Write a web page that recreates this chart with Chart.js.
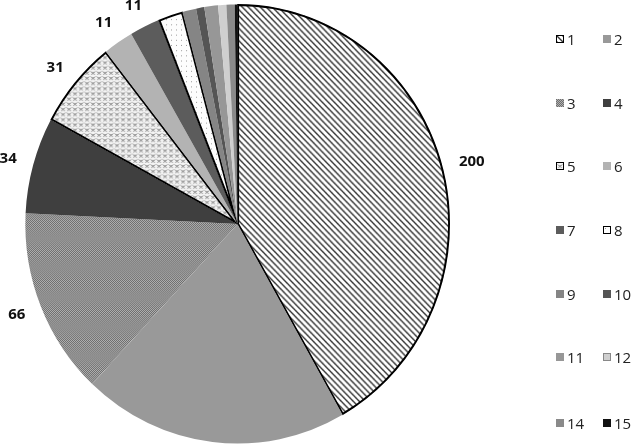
<!DOCTYPE html>
<html>
<head>
<meta charset="utf-8">
<script src="https://cdn.jsdelivr.net/npm/chart.js@4.4.1/dist/chart.umd.min.js"></script>
<style>
  html, body { margin: 0; padding: 0; background: #fff; overflow: hidden; }
  #wrap { position: relative; width: 635px; height: 447px; }
  #c { position: absolute; left: 0; top: 0; }
  #legend { position: absolute; left: 0; top: 0; width: 635px; height: 447px; pointer-events: none; }
  .item { position: absolute; display: flex; align-items: center; font-family: "Open Sans", sans-serif; font-size: 15px; color: #222; height: 20px; }
  .sw { width: 8px; height: 8px; margin-right: 3px; box-sizing: border-box; }
</style>
</head>
<body>
<div id="wrap">
  <canvas id="c" width="530" height="447"></canvas>
  <div id="legend"></div>
</div>
<script>
// ---- data ----
const categories = ["1","2","3","4","5","6","7","8","9","10","11","12","14","15"];
const values     = [200, 97, 66, 34, 31, 11, 11, 9, 5, 3, 5, 3, 3, 1];
const shownLabels = ["200","97","66","34","31","11","11","9","","","","","",""];
const fills      = ["hatch","#999999","dots","#3f3f3f","scallop","#b3b3b3","#5c5c5c","sparse","#858585","#555555","#979797","#cfcfcf","#8a8a8a","#111111"];
const borders    = [1.6, 0, 0, 0, 1.6, 0, 0, 1.6, 0, 0, 0, 0, 0, 0];
const yStretch = 1.035;

function makeTile(kind) {
  const t = document.createElement('canvas');
  const g = t.getContext('2d');
  if (kind === 'hatch') {
    t.width = 6; t.height = 6;
    g.fillStyle = '#fff'; g.fillRect(0,0,6,6);
    g.strokeStyle = '#3a3a3a'; g.lineWidth = 1.4;
    g.beginPath();
    g.moveTo(-1,-1); g.lineTo(7,7);
    g.moveTo(-1,5); g.lineTo(1,7);
    g.moveTo(5,-1); g.lineTo(7,1);
    g.stroke();
  } else if (kind === 'dots') {
    t.width = 2; t.height = 2;
    g.fillStyle = '#b0b0b0'; g.fillRect(0,0,2,2);
    g.fillStyle = '#6e6e6e'; g.fillRect(0,0,1,1); g.fillRect(1,1,1,1);
  } else if (kind === 'scallop') {
    t.width = 6; t.height = 5;
    g.fillStyle = '#f4f4f4'; g.fillRect(0,0,6,5);
    g.strokeStyle = '#8a8a8a'; g.lineWidth = 0.8;
    g.beginPath(); g.arc(3, 0.5, 2.5, 0.1*Math.PI, 0.9*Math.PI); g.stroke();
    g.beginPath(); g.arc(0, 3, 2.5, -0.1*Math.PI, 0.6*Math.PI); g.stroke();
    g.beginPath(); g.arc(6, 3, 2.5, 0.4*Math.PI, 1.1*Math.PI); g.stroke();
  } else if (kind === 'sparse') {
    t.width = 5; t.height = 5;
    g.fillStyle = '#fdfdfd'; g.fillRect(0,0,5,5);
    g.fillStyle = '#9a9a9a'; g.fillRect(1,1,1,1);
  }
  return t;
}
const ctx = document.getElementById('c').getContext('2d');
const bg = fills.map(f => f.startsWith('#') ? f : ctx.createPattern(makeTile(f), 'repeat'));

const stretchPlugin = {
  id: 'stretch',
  beforeDatasetsDraw(chart) {
    const p = chart.getDatasetMeta(0).data[0];
    const c = chart.ctx;
    c.save();
    c.translate(0, p.y);
    c.scale(1, yStretch);
    c.translate(0, -p.y);
  },
  afterDatasetsDraw(chart) {
    chart.ctx.restore();
  }
};

const labelPlugin = {
  id: 'outerLabels',
  afterDraw(chart) {
    const meta = chart.getDatasetMeta(0);
    const c = chart.ctx;
    c.save();
    c.font = 'bold 15px "Open Sans", sans-serif';
    c.fillStyle = '#111';
    c.textAlign = 'center';
    c.textBaseline = 'middle';
    meta.data.forEach((arc, i) => {
      const txt = shownLabels[i];
      if (!txt) return;
      const p = arc.getProps(['x','y','startAngle','endAngle','outerRadius'], true);
      const a = (p.startAngle + p.endAngle) / 2;
      const cx = Math.cos(a), sy = Math.sin(a);
      const w = c.measureText(txt).width, h = 12, gap = 17;
      const x = p.x + cx * (p.outerRadius + gap) + cx * w / 2;
      const y = p.y + sy * (p.outerRadius * yStretch + gap) + sy * h / 2;
      c.fillText(txt, x, y);
    });
    c.restore();
  }
};

new Chart(ctx, {
  type: 'pie',
  data: {
    labels: categories,
    datasets: [{
      data: values,
      backgroundColor: bg,
      borderColor: '#000',
      borderWidth: borders,
      borderAlign: 'inner',
      hoverOffset: 0
    }]
  },
  options: {
    responsive: false,
    animation: false,
    events: [],
    layout: { padding: { left: 25, right: 80, top: 11.5, bottom: 10.5 } },
    plugins: { legend: { display: false }, tooltip: { enabled: false } }
  },
  plugins: [stretchPlugin, labelPlugin]
});

// ---- HTML legend ----
const legend = document.getElementById('legend');
const colX = [556, 603];
const rowY = [39, 103, 166, 230, 294, 357, 423];
categories.forEach((cat, i) => {
  const row = Math.floor(i / 2), col = i % 2;
  const d = document.createElement('div');
  d.className = 'item';
  d.style.left = colX[col] + 'px';
  d.style.top = (rowY[row] - 10) + 'px';
  const sw = document.createElement('span');
  sw.className = 'sw';
  const f = fills[i];
  if (f.startsWith('#')) sw.style.background = f;
  else sw.style.backgroundImage = 'url(' + makeTile(f).toDataURL() + ')';
  if (borders[i] > 0) sw.style.border = '1.5px solid #000';
  if (cat === '12') sw.style.border = '1px solid #888';
  const tx = document.createElement('span');
  tx.textContent = cat;
  d.appendChild(sw); d.appendChild(tx);
  legend.appendChild(d);
});
</script>
</body>
</html>
